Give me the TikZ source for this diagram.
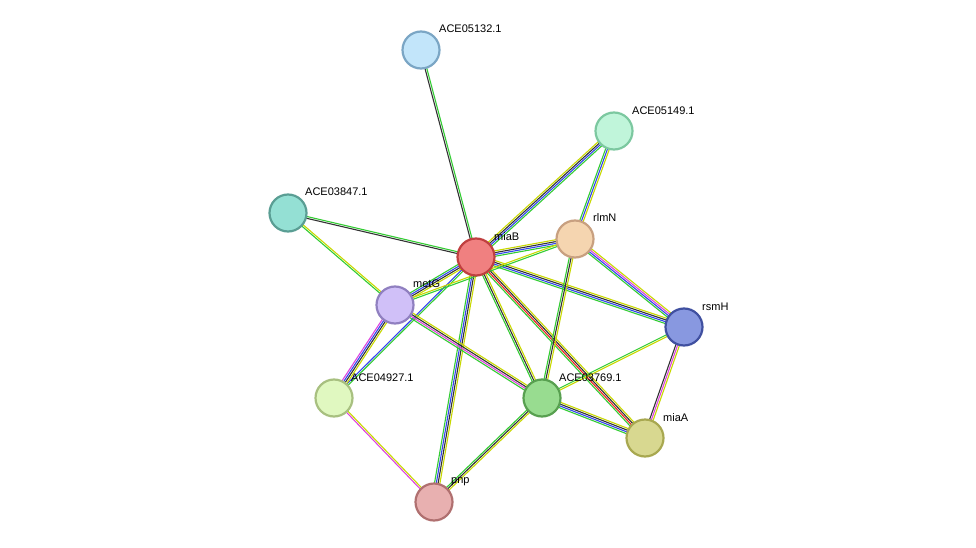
\documentclass[tikz,border=0pt]{standalone}
\usepackage{fontspec}
\setmainfont{Liberation Sans}
\usetikzlibrary{calc}
\definecolor{cG}{HTML}{33CC33}
\definecolor{cK}{HTML}{333333}
\definecolor{cB}{HTML}{3344EE}
\definecolor{cY}{HTML}{C8D800}
\definecolor{cM}{HTML}{DD44DD}
\definecolor{cR}{HTML}{EE2222}
\tikzset{prot/.style={circle,minimum size=37pt,inner sep=0pt,line width=2.2pt},
 lbl/.style={font=\fontsize{11}{13}\selectfont,anchor=south west,inner sep=1pt}}
\newcommand\edgeml[4]{% a b n colors
 \foreach \c [count=\i] in {#4}{%
  \pgfmathsetmacro\off{(\i-(#3+1)/2)*1.8}%
  \draw[\c,line width=1.1pt] ($(#1)!\off pt!90:(#2)$) -- ($(#2)!\off pt!-90:(#1)$);
 }}
\begin{document}
\begin{tikzpicture}[x=1pt,y=-1pt]
\useasboundingbox (0,0) rectangle (976,548);
\coordinate (a05132) at (421,50);
\coordinate (a05149) at (614,131);
\coordinate (a03847) at (288,213);
\coordinate (miaB) at (476,257);
\coordinate (rlmN) at (575,239);
\coordinate (metG) at (395,305);
\coordinate (rsmH) at (684,327);
\coordinate (a04927) at (334,398);
\coordinate (a03769) at (542,398);
\coordinate (miaA) at (645,438);
\coordinate (pnp) at (434,502);
\edgeml{miaB}{a05132}{2}{cG,cK}
\edgeml{miaB}{a05149}{4}{cG,cB,cK,cY}
\edgeml{miaB}{a03847}{2}{cG,cK}
\edgeml{miaB}{rlmN}{4}{cG,cB,cK,cY}
\edgeml{miaB}{metG}{4}{cG,cB,cK,cY}
\edgeml{miaB}{rsmH}{4}{cG,cB,cK,cY}
\edgeml{miaB}{a04927}{2}{cB,cG}
\edgeml{miaB}{a03769}{3}{cG,cK,cY}
\edgeml{miaB}{miaA}{4}{cG,cR,cK,cY}
\edgeml{miaB}{pnp}{4}{cG,cB,cK,cY}
\edgeml{a05149}{rlmN}{3}{cG,cB,cY}
\edgeml{a03847}{metG}{2}{cG,cY}
\edgeml{rlmN}{rsmH}{4}{cG,cB,cM,cY}
\edgeml{rlmN}{a03769}{3}{cG,cK,cY}
\edgeml{rlmN}{metG}{2}{cY,cG}
\edgeml{metG}{a04927}{4}{cM,cB,cK,cY}
\edgeml{metG}{a03769}{4}{cG,cM,cK,cY}
\edgeml{rsmH}{a03769}{2}{cG,cY}
\edgeml{rsmH}{miaA}{3}{cK,cM,cY}
\edgeml{a03769}{miaA}{4}{cG,cB,cK,cY}
\edgeml{a03769}{pnp}{3}{cG,cK,cY}
\edgeml{a04927}{pnp}{2}{cM,cY}
\node[prot,fill={rgb,255:red,194;green,229;blue,250},draw={rgb,255:red,123;green,166;blue,197}] (n05132) at (a05132) {};
\node[prot,fill={rgb,255:red,192;green,245;blue,218},draw={rgb,255:red,124;green,200;blue,160}] (n05149) at (a05149) {};
\node[prot,fill={rgb,255:red,148;green,224;blue,212},draw={rgb,255:red,90;green,158;blue,148}] (n03847) at (a03847) {};
\node[prot,fill={rgb,255:red,240;green,128;blue,128},draw={rgb,255:red,192;green,64;blue,64}] (nmiaB) at (miaB) {};
\node[prot,fill={rgb,255:red,245;green,213;blue,176},draw={rgb,255:red,200;green,160;blue,128}] (nrlmN) at (rlmN) {};
\node[prot,fill={rgb,255:red,208;green,192;blue,248},draw={rgb,255:red,144;green,128;blue,192}] (nmetG) at (metG) {};
\node[prot,fill={rgb,255:red,136;green,152;blue,224},draw={rgb,255:red,64;green,80;blue,160}] (nrsmH) at (rsmH) {};
\node[prot,fill={rgb,255:red,224;green,248;blue,192},draw={rgb,255:red,168;green,192;blue,128}] (n04927) at (a04927) {};
\node[prot,fill={rgb,255:red,152;green,220;blue,144},draw={rgb,255:red,88;green,160;blue,80}] (n03769) at (a03769) {};
\node[prot,fill={rgb,255:red,216;green,216;blue,144},draw={rgb,255:red,168;green,168;blue,80}] (nmiaA) at (miaA) {};
\node[prot,fill={rgb,255:red,232;green,176;blue,176},draw={rgb,255:red,176;green,112;blue,112}] (npnp) at (pnp) {};
\node[lbl] at (438,34) {ACE05132.1};
\node[lbl] at (631,116) {ACE05149.1};
\node[lbl] at (304,197) {ACE03847.1};
\node[lbl] at (493,242) {miaB};
\node[lbl] at (592,223) {rlmN};
\node[lbl] at (412,289) {metG};
\node[lbl] at (701,312) {rsmH};
\node[lbl] at (350,383) {ACE04927.1};
\node[lbl] at (558,383) {ACE03769.1};
\node[lbl] at (662,423) {miaA};
\node[lbl] at (450,487) {pnp};
\end{tikzpicture}
\end{document}
